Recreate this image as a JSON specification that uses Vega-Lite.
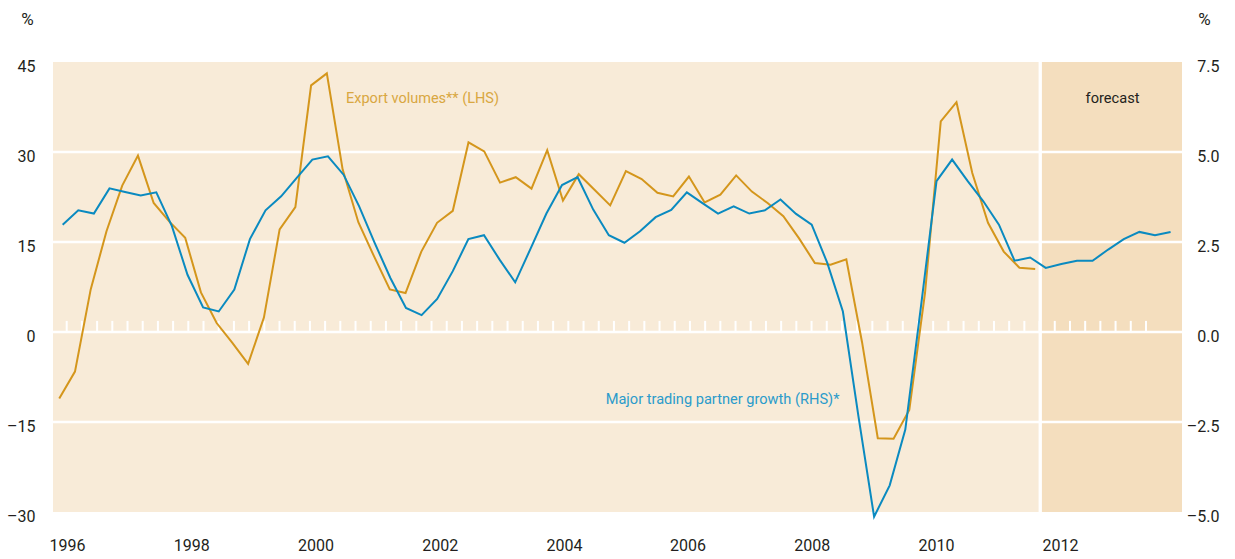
{
  "$schema": "https://vega.github.io/schema/vega-lite/v6.json",
  "width": 1129,
  "height": 450,
  "autosize": {"type": "none"},
  "padding": {"left": 53, "top": 62, "right": 53, "bottom": 47},
  "background": "white",
  "config": {
    "view": {"fill": "#F8EBD8", "stroke": null},
    "font": "Roboto, sans-serif"
  },
  "datasets": {
    "grid": [{"level": 30}, {"level": 15}, {"level": 0}, {"level": -15}],
    "ticks": [
      {"i": 0}, {"i": 1}, {"i": 2}, {"i": 3}, {"i": 4}, {"i": 5}, {"i": 6}, {"i": 7}, {"i": 8}, {"i": 9},
      {"i": 10}, {"i": 11}, {"i": 12}, {"i": 13}, {"i": 14}, {"i": 15}, {"i": 16}, {"i": 17}, {"i": 18}, {"i": 19},
      {"i": 20}, {"i": 21}, {"i": 22}, {"i": 23}, {"i": 24}, {"i": 25}, {"i": 26}, {"i": 27}, {"i": 28}, {"i": 29},
      {"i": 30}, {"i": 31}, {"i": 32}, {"i": 33}, {"i": 34}, {"i": 35}, {"i": 36}, {"i": 37}, {"i": 38}, {"i": 39},
      {"i": 40}, {"i": 41}, {"i": 42}, {"i": 43}, {"i": 44}, {"i": 45}, {"i": 46}, {"i": 47}, {"i": 48}, {"i": 49},
      {"i": 50}, {"i": 51}, {"i": 52}, {"i": 53}, {"i": 54}, {"i": 55}, {"i": 56}, {"i": 57}, {"i": 58}, {"i": 59},
      {"i": 60}, {"i": 61}, {"i": 62}, {"i": 63}, {"i": 64}, {"i": 65}, {"i": 66}, {"i": 67}, {"i": 68}, {"i": 69},
      {"i": 70}, {"i": 71}
    ],
    "exports": [
      {"date": 1995.945, "value": -11.1}, {"date": 1996.197, "value": -6.6}, {"date": 1996.449, "value": 7.1},
      {"date": 1996.702, "value": 16.8}, {"date": 1996.954, "value": 24.4}, {"date": 1997.206, "value": 29.4},
      {"date": 1997.458, "value": 21.5}, {"date": 1997.710, "value": 18.4}, {"date": 1997.963, "value": 15.7},
      {"date": 1998.215, "value": 6.6}, {"date": 1998.467, "value": 1.5}, {"date": 1998.719, "value": -1.8},
      {"date": 1998.971, "value": -5.3}, {"date": 1999.224, "value": 2.4}, {"date": 1999.476, "value": 17.1},
      {"date": 1999.728, "value": 20.8}, {"date": 1999.980, "value": 41.1}, {"date": 2000.232, "value": 43.1},
      {"date": 2000.485, "value": 27.1}, {"date": 2000.737, "value": 18.3}, {"date": 2000.989, "value": 12.6},
      {"date": 2001.241, "value": 7.1}, {"date": 2001.493, "value": 6.5}, {"date": 2001.746, "value": 13.4},
      {"date": 2001.998, "value": 18.2}, {"date": 2002.250, "value": 20.2}, {"date": 2002.502, "value": 31.6},
      {"date": 2002.754, "value": 30.1}, {"date": 2003.007, "value": 24.9}, {"date": 2003.259, "value": 25.8},
      {"date": 2003.511, "value": 23.9}, {"date": 2003.763, "value": 30.3}, {"date": 2004.015, "value": 21.9},
      {"date": 2004.268, "value": 26.3}, {"date": 2004.520, "value": 23.7}, {"date": 2004.772, "value": 21.1},
      {"date": 2005.024, "value": 26.8}, {"date": 2005.276, "value": 25.5}, {"date": 2005.529, "value": 23.2},
      {"date": 2005.781, "value": 22.6}, {"date": 2006.033, "value": 25.9}, {"date": 2006.285, "value": 21.6},
      {"date": 2006.537, "value": 22.9}, {"date": 2006.790, "value": 26.1}, {"date": 2007.042, "value": 23.4},
      {"date": 2007.294, "value": 21.5}, {"date": 2007.546, "value": 19.3}, {"date": 2007.798, "value": 15.6},
      {"date": 2008.051, "value": 11.5}, {"date": 2008.303, "value": 11.2}, {"date": 2008.555, "value": 12.1},
      {"date": 2008.807, "value": -1.7}, {"date": 2009.059, "value": -17.7}, {"date": 2009.312, "value": -17.8},
      {"date": 2009.564, "value": -13.0}, {"date": 2009.816, "value": 6.5}, {"date": 2010.068, "value": 35.1},
      {"date": 2010.320, "value": 38.3}, {"date": 2010.573, "value": 26.5}, {"date": 2010.825, "value": 18.2},
      {"date": 2011.077, "value": 13.4}, {"date": 2011.329, "value": 10.7}, {"date": 2011.581, "value": 10.5}
    ],
    "partners": [
      {"date": 1996.00, "value": 2.98}, {"date": 1996.25, "value": 3.38}, {"date": 1996.50, "value": 3.29},
      {"date": 1996.75, "value": 3.99}, {"date": 1997.00, "value": 3.89}, {"date": 1997.25, "value": 3.79},
      {"date": 1997.50, "value": 3.88}, {"date": 1997.75, "value": 2.94}, {"date": 1998.00, "value": 1.59},
      {"date": 1998.25, "value": 0.68}, {"date": 1998.50, "value": 0.57}, {"date": 1998.75, "value": 1.18},
      {"date": 1999.00, "value": 2.58}, {"date": 1999.25, "value": 3.38}, {"date": 1999.50, "value": 3.77},
      {"date": 1999.75, "value": 4.28}, {"date": 2000.00, "value": 4.79}, {"date": 2000.25, "value": 4.88},
      {"date": 2000.50, "value": 4.37}, {"date": 2000.75, "value": 3.49}, {"date": 2001.00, "value": 2.47},
      {"date": 2001.25, "value": 1.50}, {"date": 2001.50, "value": 0.67}, {"date": 2001.75, "value": 0.47},
      {"date": 2002.00, "value": 0.92}, {"date": 2002.25, "value": 1.69}, {"date": 2002.50, "value": 2.58},
      {"date": 2002.75, "value": 2.69}, {"date": 2003.00, "value": 2.01}, {"date": 2003.25, "value": 1.38},
      {"date": 2003.50, "value": 2.33}, {"date": 2003.75, "value": 3.29}, {"date": 2004.00, "value": 4.08},
      {"date": 2004.25, "value": 4.30}, {"date": 2004.50, "value": 3.40}, {"date": 2004.75, "value": 2.69},
      {"date": 2005.00, "value": 2.48}, {"date": 2005.25, "value": 2.80}, {"date": 2005.50, "value": 3.19},
      {"date": 2005.75, "value": 3.39}, {"date": 2006.00, "value": 3.88}, {"date": 2006.25, "value": 3.58},
      {"date": 2006.50, "value": 3.29}, {"date": 2006.75, "value": 3.49}, {"date": 2007.00, "value": 3.29},
      {"date": 2007.25, "value": 3.38}, {"date": 2007.50, "value": 3.68}, {"date": 2007.75, "value": 3.28},
      {"date": 2008.00, "value": 2.98}, {"date": 2008.25, "value": 1.92}, {"date": 2008.50, "value": 0.57},
      {"date": 2008.75, "value": -2.35}, {"date": 2009.00, "value": -5.13}, {"date": 2009.25, "value": -4.26},
      {"date": 2009.50, "value": -2.71}, {"date": 2009.75, "value": 0.70}, {"date": 2010.00, "value": 4.19},
      {"date": 2010.25, "value": 4.79}, {"date": 2010.50, "value": 4.19}, {"date": 2010.75, "value": 3.63},
      {"date": 2011.00, "value": 2.98}, {"date": 2011.25, "value": 1.98}, {"date": 2011.50, "value": 2.07},
      {"date": 2011.75, "value": 1.78}, {"date": 2012.00, "value": 1.89}, {"date": 2012.25, "value": 1.98},
      {"date": 2012.50, "value": 1.98}, {"date": 2012.75, "value": 2.29}, {"date": 2013.00, "value": 2.58},
      {"date": 2013.25, "value": 2.78}, {"date": 2013.50, "value": 2.69}, {"date": 2013.75, "value": 2.78}
    ]
  },
  "layer": [
    {
      "layer": [
        {
          "data": {"values": [{}]},
          "mark": {"type": "rect", "color": "#F4DEBE"},
          "encoding": {
            "x": {
              "datum": 2011.662, "type": "quantitative",
              "scale": {"domain": [1995.845, 2013.933], "nice": false, "zero": false},
              "axis": {
                "values": [1996.07, 1998.06, 2000.05, 2002.04, 2004.03, 2006.01, 2008.0, 2009.99, 2011.98],
                "labelExpr": "format(round(datum.value), 'd')",
                "domain": false, "ticks": false, "tickSize": 0, "grid": false, "title": null,
                "labelPadding": 25, "labelFontSize": 16, "labelFontWeight": "normal", "labelColor": "#231F20", "labelFlush": false,
                "labelOverlap": false
              }
            },
            "x2": {"datum": 2013.933},
            "y": {
              "datum": 45, "type": "quantitative",
              "scale": {"domain": [-30, 45], "nice": false, "zero": false},
              "axis": {
                "values": [-30, -15, 0, 15, 30, 45],
                "labelExpr": "datum.value < 0 ? '–' + format(-datum.value, 'd') : format(datum.value, 'd')",
                "domain": false, "ticks": false, "tickSize": 0, "grid": false,
                "title": "%", "titleAngle": 0, "titleX": -26, "titleY": -43, "titleAlign": "center",
                "titleBaseline": "middle", "titleFontSize": 17, "titleFontWeight": "normal", "titleColor": "#231F20",
                "labelPadding": 18, "labelOffset": 4, "labelFontSize": 16, "labelFontWeight": "normal", "labelColor": "#231F20",
                "labelFlush": false, "labelOverlap": false
              }
            },
            "y2": {"datum": -30}
          }
        },
        {
          "data": {"name": "grid"},
          "mark": {"type": "rule", "color": "white", "strokeWidth": 2.5},
          "encoding": {
            "y": {"field": "level", "type": "quantitative", "scale": {"domain": [-30, 45], "nice": false, "zero": false}}
          }
        },
        {
          "data": {"values": [{}]},
          "mark": {"type": "rule", "color": "white", "strokeWidth": 3.3},
          "encoding": {
            "x": {"datum": 2011.662, "type": "quantitative", "scale": {"domain": [1995.845, 2013.933], "nice": false, "zero": false}}
          }
        }
      ]
    },
    {
      "data": {"name": "ticks"},
      "mark": {"type": "rule", "color": "white", "strokeWidth": 2},
      "encoding": {
        "x": {"field": "i", "type": "quantitative", "scale": {"domain": [-0.9015, 73.37], "nice": false, "zero": false}, "axis": null},
        "y": {"datum": 0, "type": "quantitative", "scale": {"domain": [-30, 45], "nice": false, "zero": false}, "axis": null},
        "y2": {"datum": 1.85}
      }
    },
    {
      "layer": [
        {
          "data": {"name": "exports"},
          "mark": {"type": "line", "color": "#D4961C", "strokeWidth": 2},
          "encoding": {
            "x": {"field": "date", "type": "quantitative", "scale": {"domain": [1995.845, 2013.933], "nice": false, "zero": false}, "axis": null},
            "y": {"field": "value", "type": "quantitative", "scale": {"domain": [-30, 45], "nice": false, "zero": false}, "axis": null}
          }
        },
        {
          "data": {"values": [{}]},
          "mark": {"type": "text", "text": "Export volumes** (LHS)", "align": "left", "baseline": "alphabetic", "fontSize": 14.5, "color": "#D9A741"},
          "encoding": {
            "x": {"datum": 2000.54, "type": "quantitative"},
            "y": {"datum": 38.2, "type": "quantitative"}
          }
        },
        {
          "data": {"values": [{}]},
          "mark": {"type": "text", "text": "Major trading partner growth (RHS)*", "align": "right", "baseline": "alphabetic", "fontSize": 14.6, "color": "#2B9BCB"},
          "encoding": {
            "x": {"datum": 2008.445, "type": "quantitative"},
            "y": {"datum": -12.03, "type": "quantitative"}
          }
        },
        {
          "data": {"values": [{}]},
          "mark": {"type": "text", "text": "forecast", "align": "center", "baseline": "alphabetic", "fontSize": 14.6, "color": "#231F20"},
          "encoding": {
            "x": {"datum": 2012.82, "type": "quantitative"},
            "y": {"datum": 38.2, "type": "quantitative"}
          }
        }
      ]
    },
    {
      "data": {"name": "partners"},
      "mark": {"type": "line", "color": "#0A8AC0", "strokeWidth": 2},
      "encoding": {
        "x": {"field": "date", "type": "quantitative", "scale": {"domain": [1995.845, 2013.933], "nice": false, "zero": false}, "axis": null},
        "y": {
          "field": "value", "type": "quantitative",
          "scale": {"domain": [-5, 7.5], "nice": false, "zero": false},
          "axis": {
            "orient": "right",
            "values": [-5, -2.5, 0, 2.5, 5, 7.5],
            "labelExpr": "datum.value < 0 ? '–' + format(-datum.value, '.1f') : format(datum.value, '.1f')",
            "domain": false, "ticks": false, "tickSize": 0, "grid": false,
            "title": "%", "titleAngle": 0, "titleX": 22, "titleY": -43, "titleAlign": "center",
            "titleBaseline": "middle", "titleFontSize": 17, "titleFontWeight": "normal", "titleColor": "#231F20",
            "labelAlign": "right", "labelPadding": 37, "labelOffset": 4, "labelFontSize": 16, "labelFontWeight": "normal", "labelColor": "#231F20",
            "labelFlush": false, "labelOverlap": false
          }
        }
      }
    }
  ],
  "resolve": {"scale": {"x": "independent", "y": "independent"}}
}
